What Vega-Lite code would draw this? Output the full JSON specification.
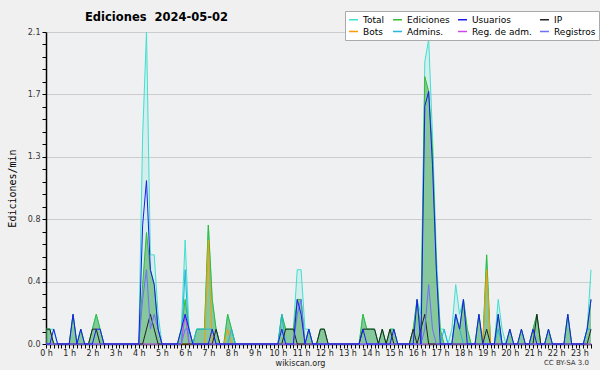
{
"$schema": "https://vega.github.io/schema/vega-lite/v6.json",
"width": 545, "height": 312,
"autosize": {"type": "none"},
"padding": {"left": 46, "top": 32, "right": 9, "bottom": 26},
"background": "#f0f0f0",
"title": {"text": "Ediciones \u00a02024-05-02", "anchor": "start", "frame": "group", "dx": 39, "dy": 20, "offset": 7, "font": "DejaVu Sans", "fontSize": 11.5, "fontWeight": "bold", "color": "#000000"},
"config": {
  "view": {"fill": "#eef0f2", "stroke": null},
  "legend": {"orient": "none", "legendX": 299, "legendY": -21, "direction": "horizontal", "columns": 4, "symbolType": "stroke", "symbolSize": 80, "symbolStrokeWidth": 1.5, "labelFont": "DejaVu Sans", "labelFontSize": 9, "labelColor": "#000000", "fillColor": "#ffffff", "strokeColor": "#aaaaaa", "padding": 3, "rowPadding": 1, "columnPadding": 5, "labelOffset": 4, "title": null}
},
"data": {"values": [
{"t":0,"Total":0.1,"Ediciones":0.1,"Usuarios":0,"IP":0.1,"Bots":0,"Admins":0,"RegAdm":0,"Registros":0},
{"t":10,"Total":0.1,"Ediciones":0.1,"Usuarios":0,"IP":0.1,"Bots":0,"Admins":0,"RegAdm":0,"Registros":0},
{"t":20,"Total":0.1,"Ediciones":0,"Usuarios":0.1,"IP":0,"Bots":0,"Admins":0,"RegAdm":0,"Registros":0},
{"t":30,"Total":0,"Ediciones":0,"Usuarios":0,"IP":0,"Bots":0,"Admins":0,"RegAdm":0,"Registros":0},
{"t":40,"Total":0,"Ediciones":0,"Usuarios":0,"IP":0,"Bots":0,"Admins":0,"RegAdm":0,"Registros":0},
{"t":50,"Total":0,"Ediciones":0,"Usuarios":0,"IP":0,"Bots":0,"Admins":0,"RegAdm":0,"Registros":0},
{"t":60,"Total":0,"Ediciones":0,"Usuarios":0,"IP":0,"Bots":0,"Admins":0,"RegAdm":0,"Registros":0},
{"t":70,"Total":0.2,"Ediciones":0.2,"Usuarios":0.2,"IP":0,"Bots":0,"Admins":0,"RegAdm":0,"Registros":0},
{"t":80,"Total":0,"Ediciones":0,"Usuarios":0,"IP":0,"Bots":0,"Admins":0,"RegAdm":0,"Registros":0},
{"t":90,"Total":0.1,"Ediciones":0.1,"Usuarios":0.1,"IP":0,"Bots":0,"Admins":0,"RegAdm":0,"Registros":0},
{"t":100,"Total":0,"Ediciones":0,"Usuarios":0,"IP":0,"Bots":0,"Admins":0,"RegAdm":0,"Registros":0},
{"t":110,"Total":0,"Ediciones":0,"Usuarios":0,"IP":0,"Bots":0,"Admins":0,"RegAdm":0,"Registros":0},
{"t":120,"Total":0.1,"Ediciones":0.1,"Usuarios":0,"IP":0.1,"Bots":0,"Admins":0,"RegAdm":0,"Registros":0},
{"t":130,"Total":0.2,"Ediciones":0.2,"Usuarios":0.1,"IP":0.1,"Bots":0,"Admins":0,"RegAdm":0,"Registros":0},
{"t":140,"Total":0.1,"Ediciones":0.1,"Usuarios":0.1,"IP":0,"Bots":0,"Admins":0,"RegAdm":0,"Registros":0},
{"t":150,"Total":0,"Ediciones":0,"Usuarios":0,"IP":0,"Bots":0,"Admins":0,"RegAdm":0,"Registros":0},
{"t":160,"Total":0,"Ediciones":0,"Usuarios":0,"IP":0,"Bots":0,"Admins":0,"RegAdm":0,"Registros":0},
{"t":170,"Total":0,"Ediciones":0,"Usuarios":0,"IP":0,"Bots":0,"Admins":0,"RegAdm":0,"Registros":0},
{"t":180,"Total":0,"Ediciones":0,"Usuarios":0,"IP":0,"Bots":0,"Admins":0,"RegAdm":0,"Registros":0},
{"t":190,"Total":0,"Ediciones":0,"Usuarios":0,"IP":0,"Bots":0,"Admins":0,"RegAdm":0,"Registros":0},
{"t":200,"Total":0,"Ediciones":0,"Usuarios":0,"IP":0,"Bots":0,"Admins":0,"RegAdm":0,"Registros":0},
{"t":210,"Total":0,"Ediciones":0,"Usuarios":0,"IP":0,"Bots":0,"Admins":0,"RegAdm":0,"Registros":0},
{"t":220,"Total":0,"Ediciones":0,"Usuarios":0,"IP":0,"Bots":0,"Admins":0,"RegAdm":0,"Registros":0},
{"t":230,"Total":0,"Ediciones":0,"Usuarios":0,"IP":0,"Bots":0,"Admins":0,"RegAdm":0,"Registros":0},
{"t":240,"Total":0,"Ediciones":0,"Usuarios":0,"IP":0,"Bots":0,"Admins":0,"RegAdm":0,"Registros":0},
{"t":250,"Total":1.4,"Ediciones":0.4,"Usuarios":0.8,"IP":0,"Bots":0,"Admins":0,"RegAdm":0,"Registros":0.3},
{"t":260,"Total":2.1,"Ediciones":0.75,"Usuarios":1.1,"IP":0.1,"Bots":0,"Admins":0,"RegAdm":0,"Registros":0.5},
{"t":270,"Total":0.6,"Ediciones":0.5,"Usuarios":0.5,"IP":0.2,"Bots":0,"Admins":0,"RegAdm":0,"Registros":0.1},
{"t":280,"Total":0.6,"Ediciones":0.4,"Usuarios":0.4,"IP":0.1,"Bots":0,"Admins":0,"RegAdm":0,"Registros":0.2},
{"t":290,"Total":0.2,"Ediciones":0.1,"Usuarios":0.1,"IP":0,"Bots":0,"Admins":0,"RegAdm":0,"Registros":0.1},
{"t":300,"Total":0,"Ediciones":0,"Usuarios":0,"IP":0,"Bots":0,"Admins":0,"RegAdm":0,"Registros":0},
{"t":310,"Total":0,"Ediciones":0,"Usuarios":0,"IP":0,"Bots":0,"Admins":0,"RegAdm":0,"Registros":0},
{"t":320,"Total":0,"Ediciones":0,"Usuarios":0,"IP":0,"Bots":0,"Admins":0,"RegAdm":0,"Registros":0},
{"t":330,"Total":0,"Ediciones":0,"Usuarios":0,"IP":0,"Bots":0,"Admins":0,"RegAdm":0,"Registros":0},
{"t":340,"Total":0,"Ediciones":0,"Usuarios":0,"IP":0,"Bots":0,"Admins":0,"RegAdm":0,"Registros":0},
{"t":350,"Total":0.1,"Ediciones":0.1,"Usuarios":0.1,"IP":0,"Bots":0,"Admins":0,"RegAdm":0,"Registros":0},
{"t":360,"Total":0.7,"Ediciones":0.3,"Usuarios":0.2,"IP":0,"Bots":0,"Admins":0.5,"RegAdm":0.2,"Registros":0.1},
{"t":370,"Total":0.1,"Ediciones":0.1,"Usuarios":0.1,"IP":0,"Bots":0,"Admins":0,"RegAdm":0,"Registros":0.1},
{"t":380,"Total":0,"Ediciones":0,"Usuarios":0,"IP":0,"Bots":0,"Admins":0,"RegAdm":0,"Registros":0},
{"t":390,"Total":0.1,"Ediciones":0.1,"Usuarios":0,"IP":0,"Bots":0,"Admins":0.1,"RegAdm":0,"Registros":0},
{"t":400,"Total":0.1,"Ediciones":0.1,"Usuarios":0,"IP":0,"Bots":0,"Admins":0.1,"RegAdm":0,"Registros":0},
{"t":410,"Total":0.1,"Ediciones":0.1,"Usuarios":0,"IP":0,"Bots":0,"Admins":0.1,"RegAdm":0,"Registros":0},
{"t":420,"Total":0.8,"Ediciones":0.8,"Usuarios":0,"IP":0,"Bots":0.7,"Admins":0.1,"RegAdm":0,"Registros":0},
{"t":430,"Total":0.3,"Ediciones":0.3,"Usuarios":0.1,"IP":0,"Bots":0,"Admins":0.1,"RegAdm":0,"Registros":0},
{"t":440,"Total":0.1,"Ediciones":0.1,"Usuarios":0,"IP":0.1,"Bots":0,"Admins":0,"RegAdm":0,"Registros":0},
{"t":450,"Total":0,"Ediciones":0,"Usuarios":0,"IP":0,"Bots":0,"Admins":0,"RegAdm":0,"Registros":0},
{"t":460,"Total":0,"Ediciones":0,"Usuarios":0,"IP":0,"Bots":0,"Admins":0,"RegAdm":0,"Registros":0},
{"t":470,"Total":0.2,"Ediciones":0.2,"Usuarios":0,"IP":0,"Bots":0.1,"Admins":0,"RegAdm":0,"Registros":0},
{"t":480,"Total":0.1,"Ediciones":0.1,"Usuarios":0,"IP":0,"Bots":0,"Admins":0.1,"RegAdm":0,"Registros":0},
{"t":490,"Total":0,"Ediciones":0,"Usuarios":0,"IP":0,"Bots":0,"Admins":0,"RegAdm":0,"Registros":0},
{"t":500,"Total":0,"Ediciones":0,"Usuarios":0,"IP":0,"Bots":0,"Admins":0,"RegAdm":0,"Registros":0},
{"t":510,"Total":0,"Ediciones":0,"Usuarios":0,"IP":0,"Bots":0,"Admins":0,"RegAdm":0,"Registros":0},
{"t":520,"Total":0,"Ediciones":0,"Usuarios":0,"IP":0,"Bots":0,"Admins":0,"RegAdm":0,"Registros":0},
{"t":530,"Total":0,"Ediciones":0,"Usuarios":0,"IP":0,"Bots":0,"Admins":0,"RegAdm":0,"Registros":0},
{"t":540,"Total":0,"Ediciones":0,"Usuarios":0,"IP":0,"Bots":0,"Admins":0,"RegAdm":0,"Registros":0},
{"t":550,"Total":0,"Ediciones":0,"Usuarios":0,"IP":0,"Bots":0,"Admins":0,"RegAdm":0,"Registros":0},
{"t":560,"Total":0,"Ediciones":0,"Usuarios":0,"IP":0,"Bots":0,"Admins":0,"RegAdm":0,"Registros":0},
{"t":570,"Total":0,"Ediciones":0,"Usuarios":0,"IP":0,"Bots":0,"Admins":0,"RegAdm":0,"Registros":0},
{"t":580,"Total":0,"Ediciones":0,"Usuarios":0,"IP":0,"Bots":0,"Admins":0,"RegAdm":0,"Registros":0},
{"t":590,"Total":0,"Ediciones":0,"Usuarios":0,"IP":0,"Bots":0,"Admins":0,"RegAdm":0,"Registros":0},
{"t":600,"Total":0,"Ediciones":0,"Usuarios":0,"IP":0,"Bots":0,"Admins":0,"RegAdm":0,"Registros":0},
{"t":610,"Total":0.2,"Ediciones":0.2,"Usuarios":0.1,"IP":0,"Bots":0,"Admins":0.2,"RegAdm":0,"Registros":0},
{"t":620,"Total":0.1,"Ediciones":0.1,"Usuarios":0,"IP":0.1,"Bots":0,"Admins":0,"RegAdm":0,"Registros":0},
{"t":630,"Total":0.1,"Ediciones":0.1,"Usuarios":0,"IP":0.1,"Bots":0,"Admins":0,"RegAdm":0,"Registros":0},
{"t":640,"Total":0.1,"Ediciones":0.1,"Usuarios":0,"IP":0.1,"Bots":0,"Admins":0,"RegAdm":0,"Registros":0},
{"t":650,"Total":0.5,"Ediciones":0.3,"Usuarios":0.3,"IP":0,"Bots":0,"Admins":0,"RegAdm":0,"Registros":0.2},
{"t":660,"Total":0.5,"Ediciones":0.3,"Usuarios":0.2,"IP":0,"Bots":0,"Admins":0,"RegAdm":0,"Registros":0.3},
{"t":670,"Total":0.1,"Ediciones":0,"Usuarios":0,"IP":0,"Bots":0,"Admins":0,"RegAdm":0,"Registros":0},
{"t":680,"Total":0.1,"Ediciones":0.1,"Usuarios":0.1,"IP":0,"Bots":0,"Admins":0.1,"RegAdm":0,"Registros":0},
{"t":690,"Total":0,"Ediciones":0,"Usuarios":0,"IP":0,"Bots":0,"Admins":0,"RegAdm":0,"Registros":0},
{"t":700,"Total":0,"Ediciones":0,"Usuarios":0,"IP":0,"Bots":0,"Admins":0,"RegAdm":0,"Registros":0},
{"t":710,"Total":0.1,"Ediciones":0.1,"Usuarios":0,"IP":0.1,"Bots":0,"Admins":0,"RegAdm":0,"Registros":0},
{"t":720,"Total":0.1,"Ediciones":0.1,"Usuarios":0,"IP":0.1,"Bots":0,"Admins":0,"RegAdm":0,"Registros":0},
{"t":730,"Total":0,"Ediciones":0,"Usuarios":0,"IP":0,"Bots":0,"Admins":0,"RegAdm":0,"Registros":0},
{"t":740,"Total":0,"Ediciones":0,"Usuarios":0,"IP":0,"Bots":0,"Admins":0,"RegAdm":0,"Registros":0},
{"t":750,"Total":0,"Ediciones":0,"Usuarios":0,"IP":0,"Bots":0,"Admins":0,"RegAdm":0,"Registros":0},
{"t":760,"Total":0,"Ediciones":0,"Usuarios":0,"IP":0,"Bots":0,"Admins":0,"RegAdm":0,"Registros":0},
{"t":770,"Total":0,"Ediciones":0,"Usuarios":0,"IP":0,"Bots":0,"Admins":0,"RegAdm":0,"Registros":0},
{"t":780,"Total":0,"Ediciones":0,"Usuarios":0,"IP":0,"Bots":0,"Admins":0,"RegAdm":0,"Registros":0},
{"t":790,"Total":0,"Ediciones":0,"Usuarios":0,"IP":0,"Bots":0,"Admins":0,"RegAdm":0,"Registros":0},
{"t":800,"Total":0,"Ediciones":0,"Usuarios":0,"IP":0,"Bots":0,"Admins":0,"RegAdm":0,"Registros":0},
{"t":810,"Total":0,"Ediciones":0,"Usuarios":0,"IP":0,"Bots":0,"Admins":0,"RegAdm":0,"Registros":0},
{"t":820,"Total":0.2,"Ediciones":0.2,"Usuarios":0.1,"IP":0.1,"Bots":0,"Admins":0,"RegAdm":0,"Registros":0},
{"t":830,"Total":0.1,"Ediciones":0.1,"Usuarios":0,"IP":0.1,"Bots":0,"Admins":0,"RegAdm":0,"Registros":0},
{"t":840,"Total":0.1,"Ediciones":0.1,"Usuarios":0,"IP":0.1,"Bots":0,"Admins":0,"RegAdm":0,"Registros":0},
{"t":850,"Total":0.1,"Ediciones":0.1,"Usuarios":0,"IP":0.1,"Bots":0,"Admins":0,"RegAdm":0,"Registros":0},
{"t":860,"Total":0,"Ediciones":0,"Usuarios":0,"IP":0,"Bots":0,"Admins":0,"RegAdm":0,"Registros":0},
{"t":870,"Total":0.1,"Ediciones":0.1,"Usuarios":0,"IP":0.1,"Bots":0,"Admins":0,"RegAdm":0,"Registros":0},
{"t":880,"Total":0,"Ediciones":0,"Usuarios":0,"IP":0,"Bots":0,"Admins":0,"RegAdm":0,"Registros":0},
{"t":890,"Total":0.1,"Ediciones":0.1,"Usuarios":0,"IP":0.1,"Bots":0,"Admins":0,"RegAdm":0,"Registros":0},
{"t":900,"Total":0.1,"Ediciones":0.1,"Usuarios":0.1,"IP":0,"Bots":0,"Admins":0,"RegAdm":0,"Registros":0},
{"t":910,"Total":0,"Ediciones":0,"Usuarios":0,"IP":0,"Bots":0,"Admins":0,"RegAdm":0,"Registros":0},
{"t":920,"Total":0,"Ediciones":0,"Usuarios":0,"IP":0,"Bots":0,"Admins":0,"RegAdm":0,"Registros":0},
{"t":930,"Total":0,"Ediciones":0,"Usuarios":0,"IP":0,"Bots":0,"Admins":0,"RegAdm":0,"Registros":0},
{"t":940,"Total":0,"Ediciones":0,"Usuarios":0,"IP":0,"Bots":0,"Admins":0,"RegAdm":0,"Registros":0},
{"t":950,"Total":0.1,"Ediciones":0.1,"Usuarios":0,"IP":0.1,"Bots":0,"Admins":0,"RegAdm":0,"Registros":0},
{"t":960,"Total":0.3,"Ediciones":0.3,"Usuarios":0.3,"IP":0,"Bots":0,"Admins":0,"RegAdm":0,"Registros":0},
{"t":970,"Total":0.2,"Ediciones":0.1,"Usuarios":0,"IP":0.1,"Bots":0,"Admins":0,"RegAdm":0,"Registros":0},
{"t":980,"Total":1.9,"Ediciones":1.8,"Usuarios":1.6,"IP":0.2,"Bots":0,"Admins":0,"RegAdm":0,"Registros":0.1},
{"t":990,"Total":2.05,"Ediciones":1.7,"Usuarios":1.7,"IP":0,"Bots":0,"Admins":0,"RegAdm":0,"Registros":0.4},
{"t":1000,"Total":1.4,"Ediciones":1.3,"Usuarios":1.2,"IP":0,"Bots":0,"Admins":0,"RegAdm":0,"Registros":0.1},
{"t":1010,"Total":0.6,"Ediciones":0.5,"Usuarios":0.5,"IP":0,"Bots":0,"Admins":0,"RegAdm":0,"Registros":0},
{"t":1020,"Total":0.1,"Ediciones":0.1,"Usuarios":0,"IP":0,"Bots":0,"Admins":0,"RegAdm":0,"Registros":0},
{"t":1030,"Total":0.1,"Ediciones":0,"Usuarios":0,"IP":0,"Bots":0,"Admins":0.1,"RegAdm":0,"Registros":0},
{"t":1040,"Total":0,"Ediciones":0,"Usuarios":0,"IP":0,"Bots":0,"Admins":0,"RegAdm":0,"Registros":0},
{"t":1050,"Total":0.1,"Ediciones":0,"Usuarios":0,"IP":0,"Bots":0,"Admins":0,"RegAdm":0,"Registros":0},
{"t":1060,"Total":0.4,"Ediciones":0.2,"Usuarios":0.2,"IP":0,"Bots":0,"Admins":0.2,"RegAdm":0,"Registros":0},
{"t":1070,"Total":0.2,"Ediciones":0.1,"Usuarios":0.1,"IP":0,"Bots":0,"Admins":0.1,"RegAdm":0,"Registros":0},
{"t":1080,"Total":0.3,"Ediciones":0.3,"Usuarios":0.3,"IP":0,"Bots":0,"Admins":0,"RegAdm":0,"Registros":0},
{"t":1090,"Total":0.1,"Ediciones":0.1,"Usuarios":0,"IP":0,"Bots":0,"Admins":0,"RegAdm":0,"Registros":0},
{"t":1100,"Total":0,"Ediciones":0,"Usuarios":0,"IP":0,"Bots":0,"Admins":0,"RegAdm":0,"Registros":0},
{"t":1110,"Total":0,"Ediciones":0,"Usuarios":0,"IP":0,"Bots":0,"Admins":0,"RegAdm":0,"Registros":0},
{"t":1120,"Total":0.2,"Ediciones":0.2,"Usuarios":0.2,"IP":0,"Bots":0,"Admins":0,"RegAdm":0,"Registros":0},
{"t":1130,"Total":0,"Ediciones":0,"Usuarios":0,"IP":0,"Bots":0,"Admins":0,"RegAdm":0,"Registros":0},
{"t":1140,"Total":0.6,"Ediciones":0.6,"Usuarios":0,"IP":0.1,"Bots":0.5,"Admins":0,"RegAdm":0,"Registros":0},
{"t":1150,"Total":0,"Ediciones":0,"Usuarios":0,"IP":0,"Bots":0,"Admins":0,"RegAdm":0,"Registros":0},
{"t":1160,"Total":0,"Ediciones":0,"Usuarios":0,"IP":0,"Bots":0,"Admins":0,"RegAdm":0,"Registros":0},
{"t":1170,"Total":0.3,"Ediciones":0.2,"Usuarios":0.2,"IP":0,"Bots":0,"Admins":0.1,"RegAdm":0,"Registros":0},
{"t":1180,"Total":0.1,"Ediciones":0,"Usuarios":0,"IP":0,"Bots":0,"Admins":0,"RegAdm":0,"Registros":0},
{"t":1190,"Total":0,"Ediciones":0,"Usuarios":0,"IP":0,"Bots":0,"Admins":0,"RegAdm":0,"Registros":0},
{"t":1200,"Total":0.1,"Ediciones":0.1,"Usuarios":0.1,"IP":0,"Bots":0,"Admins":0,"RegAdm":0,"Registros":0},
{"t":1210,"Total":0,"Ediciones":0,"Usuarios":0,"IP":0,"Bots":0,"Admins":0,"RegAdm":0,"Registros":0},
{"t":1220,"Total":0,"Ediciones":0,"Usuarios":0,"IP":0,"Bots":0,"Admins":0,"RegAdm":0,"Registros":0},
{"t":1230,"Total":0.1,"Ediciones":0.1,"Usuarios":0.1,"IP":0,"Bots":0,"Admins":0,"RegAdm":0,"Registros":0},
{"t":1240,"Total":0,"Ediciones":0,"Usuarios":0,"IP":0,"Bots":0,"Admins":0,"RegAdm":0,"Registros":0},
{"t":1250,"Total":0,"Ediciones":0,"Usuarios":0,"IP":0,"Bots":0,"Admins":0,"RegAdm":0,"Registros":0},
{"t":1260,"Total":0.1,"Ediciones":0.1,"Usuarios":0.1,"IP":0,"Bots":0,"Admins":0,"RegAdm":0,"Registros":0},
{"t":1270,"Total":0.2,"Ediciones":0.2,"Usuarios":0,"IP":0.2,"Bots":0,"Admins":0,"RegAdm":0,"Registros":0},
{"t":1280,"Total":0,"Ediciones":0,"Usuarios":0,"IP":0,"Bots":0,"Admins":0,"RegAdm":0,"Registros":0},
{"t":1290,"Total":0,"Ediciones":0,"Usuarios":0,"IP":0,"Bots":0,"Admins":0,"RegAdm":0,"Registros":0},
{"t":1300,"Total":0.1,"Ediciones":0.1,"Usuarios":0.1,"IP":0,"Bots":0,"Admins":0,"RegAdm":0,"Registros":0},
{"t":1310,"Total":0,"Ediciones":0,"Usuarios":0,"IP":0,"Bots":0,"Admins":0,"RegAdm":0,"Registros":0},
{"t":1320,"Total":0,"Ediciones":0,"Usuarios":0,"IP":0,"Bots":0,"Admins":0,"RegAdm":0,"Registros":0},
{"t":1330,"Total":0,"Ediciones":0,"Usuarios":0,"IP":0,"Bots":0,"Admins":0,"RegAdm":0,"Registros":0},
{"t":1340,"Total":0,"Ediciones":0,"Usuarios":0,"IP":0,"Bots":0,"Admins":0,"RegAdm":0,"Registros":0},
{"t":1350,"Total":0.2,"Ediciones":0.2,"Usuarios":0.2,"IP":0,"Bots":0,"Admins":0,"RegAdm":0,"Registros":0},
{"t":1360,"Total":0,"Ediciones":0,"Usuarios":0,"IP":0,"Bots":0,"Admins":0,"RegAdm":0,"Registros":0},
{"t":1370,"Total":0,"Ediciones":0,"Usuarios":0,"IP":0,"Bots":0,"Admins":0,"RegAdm":0,"Registros":0},
{"t":1380,"Total":0,"Ediciones":0,"Usuarios":0,"IP":0,"Bots":0,"Admins":0,"RegAdm":0,"Registros":0},
{"t":1390,"Total":0,"Ediciones":0,"Usuarios":0,"IP":0,"Bots":0,"Admins":0,"RegAdm":0,"Registros":0},
{"t":1400,"Total":0.1,"Ediciones":0.1,"Usuarios":0.1,"IP":0,"Bots":0,"Admins":0.1,"RegAdm":0,"Registros":0},
{"t":1410,"Total":0.5,"Ediciones":0.3,"Usuarios":0.3,"IP":0.1,"Bots":0,"Admins":0.1,"RegAdm":0,"Registros":0}
]},
"layer": [
  {"mark": {"type": "area", "color": "#40e0d0", "fillOpacity": 0.15},
   "encoding": {
     "x": {"field": "t", "type": "quantitative", "title": "wikiscan.org",
       "scale": {"domain": [0, 1410], "nice": false, "zero": false},
       "axis": {"tickCount": 150, "labelExpr": "datum.value % 60 == 0 ? (datum.value / 60) + ' h' : ''", "labelOverlap": false, "labelFlush": false, "grid": false, "tickSize": 4, "tickColor": "#000000", "domainColor": "#000000", "domainWidth": 1.5, "labelFont": "DejaVu Sans", "labelFontSize": 8, "labelColor": "#222222", "labelPadding": 1, "titleFont": "DejaVu Sans", "titleFontSize": 8, "titleFontWeight": "normal", "titleColor": "#222222", "titlePadding": 2, "titleX": 254}},
     "y": {"field": "Total", "type": "quantitative", "title": "Ediciones/min",
     "scale": {"domain": [0, 2.1], "nice": false, "zero": true},
     "axis": {"values": [0, 0.084, 0.168, 0.252, 0.336, 0.42, 0.504, 0.588, 0.672, 0.756, 0.84, 0.924, 1.008, 1.092, 1.176, 1.26, 1.344, 1.428, 1.512, 1.596, 1.68, 1.764, 1.848, 1.932, 2.016, 2.1],
       "tickCount": 40,
       "labelExpr": "indexof([0, 0.42, 0.84, 1.26, 1.68, 2.1], datum.value) >= 0 ? format(datum.value, '.1f') : ''",
       "gridOpacity": {"condition": {"test": "indexof([0, 0.42, 0.84, 1.26, 1.68, 2.1], datum.value) >= 0", "value": 1}, "value": 0},
       "gridColor": "#cccccc", "tickSize": 4, "tickColor": "#000000", "domainColor": "#000000", "domainWidth": 1.5,
       "labelFont": "DejaVu Sans", "labelFontSize": 8, "labelColor": "#333333", "labelPadding": 2, "labelOverlap": false, "labelFlush": false,
       "titleFont": "DejaVu Sans Mono", "titleFontSize": 10, "titleFontWeight": "normal", "titleColor": "#000000", "titlePadding": 10}}}},
  {"mark": {"type": "area", "color": "#46a85a", "fillOpacity": 0.55},
   "encoding": {"x": {"field": "t", "type": "quantitative", "title": "wikiscan.org"}, "y": {"field": "Ediciones", "type": "quantitative", "title": "Ediciones/min"}}},
  {"mark": {"type": "line", "strokeWidth": 1},
   "encoding": {"x": {"field": "t", "type": "quantitative", "title": "wikiscan.org"}, "y": {"field": "Total", "type": "quantitative", "title": "Ediciones/min"},
     "color": {"datum": "Total", "scale": {"domain": ["Total", "Ediciones", "Usuarios", "IP", "Bots", "Admins.", "Reg. de adm.", "Registros"], "range": ["#40e0d0", "#33bb33", "#1a1aee", "#222222", "#ff9900", "#22b5dd", "#cc44ee", "#6f6fff"]}}}},
  {"mark": {"type": "line", "strokeWidth": 1},
   "encoding": {"x": {"field": "t", "type": "quantitative", "title": "wikiscan.org"}, "y": {"field": "Ediciones", "type": "quantitative", "title": "Ediciones/min"}, "color": {"datum": "Ediciones"}}},
  {"mark": {"type": "line", "strokeWidth": 1},
   "encoding": {"x": {"field": "t", "type": "quantitative", "title": "wikiscan.org"}, "y": {"field": "Bots", "type": "quantitative", "title": "Ediciones/min"}, "color": {"datum": "Bots"}}},
  {"mark": {"type": "line", "strokeWidth": 1},
   "encoding": {"x": {"field": "t", "type": "quantitative", "title": "wikiscan.org"}, "y": {"field": "Admins", "type": "quantitative", "title": "Ediciones/min"}, "color": {"datum": "Admins."}}},
  {"mark": {"type": "line", "strokeWidth": 1},
   "encoding": {"x": {"field": "t", "type": "quantitative", "title": "wikiscan.org"}, "y": {"field": "RegAdm", "type": "quantitative", "title": "Ediciones/min"}, "color": {"datum": "Reg. de adm."}}},
  {"mark": {"type": "line", "strokeWidth": 1},
   "encoding": {"x": {"field": "t", "type": "quantitative", "title": "wikiscan.org"}, "y": {"field": "IP", "type": "quantitative", "title": "Ediciones/min"}, "color": {"datum": "IP"}}},
  {"mark": {"type": "line", "strokeWidth": 1},
   "encoding": {"x": {"field": "t", "type": "quantitative", "title": "wikiscan.org"}, "y": {"field": "Registros", "type": "quantitative", "title": "Ediciones/min"}, "color": {"datum": "Registros"}}},
  {"mark": {"type": "line", "strokeWidth": 1},
   "encoding": {"x": {"field": "t", "type": "quantitative", "title": "wikiscan.org"}, "y": {"field": "Usuarios", "type": "quantitative", "title": "Ediciones/min"}, "color": {"datum": "Usuarios"}}},
  {"data": {"values": [{"note": "CC BY-SA 3.0", "t": 1410, "v": 0}]},
   "mark": {"type": "text", "align": "right", "baseline": "middle", "dx": -2, "dy": 19, "font": "DejaVu Sans", "fontSize": 7, "color": "#333333"},
   "encoding": {"x": {"field": "t", "type": "quantitative", "title": "wikiscan.org"}, "y": {"field": "v", "type": "quantitative", "title": "Ediciones/min"}, "text": {"field": "note"}}}
]
}
